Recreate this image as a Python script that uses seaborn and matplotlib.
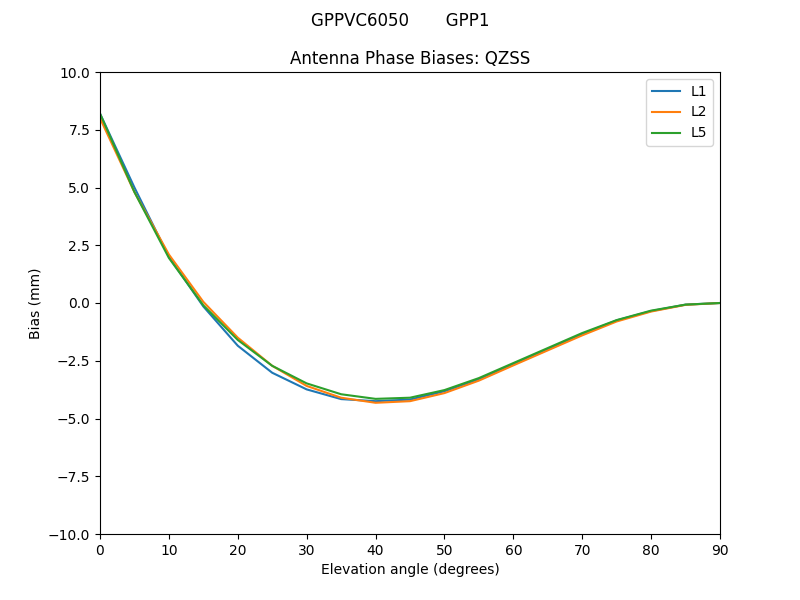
import matplotlib
matplotlib.use("Agg")
import matplotlib.pyplot as plt
import seaborn as sns
import pandas as pd

elevation = [0, 5, 10, 15, 20, 25, 30, 35, 40, 45, 50, 55, 60, 65, 70, 75, 80, 85, 90]
bias_l1 = [8.2, 5.0, 2.0, -0.15, -1.85, -3.02, -3.74, -4.16, -4.25, -4.18, -3.82, -3.3, -2.65, -2.0, -1.35, -0.75, -0.35, -0.07, 0.0]
bias_l2 = [8.0, 4.8, 2.1, 0.05, -1.5, -2.72, -3.59, -4.1, -4.32, -4.25, -3.9, -3.36, -2.7, -2.05, -1.4, -0.8, -0.37, -0.08, 0.0]
bias_l5 = [8.2, 4.8, 1.95, -0.1, -1.6, -2.72, -3.48, -3.95, -4.15, -4.1, -3.77, -3.25, -2.6, -1.95, -1.3, -0.74, -0.33, -0.07, 0.0]
signals = ["L1", "L2", "L5"]

df = pd.DataFrame({
    "elevation": elevation * 3,
    "bias": bias_l1 + bias_l2 + bias_l5,
    "signal": [s for s in signals for _ in elevation],
})

fig, ax = plt.subplots(figsize=(8, 6), dpi=100)
sns.lineplot(data=df, x="elevation", y="bias", hue="signal",
             palette=["#1f77b4", "#ff7f0e", "#2ca02c"], ax=ax)

fig.suptitle("GPPVC6050       GPP1")
ax.set_title("Antenna Phase Biases: QZSS")
ax.set_xlabel("Elevation angle (degrees)")
ax.set_ylabel("Bias (mm)")
ax.set_xlim(0, 90)
ax.set_ylim(-10, 10)
ax.legend(title=None, loc="upper right")

plt.savefig("out.png", dpi=100)
